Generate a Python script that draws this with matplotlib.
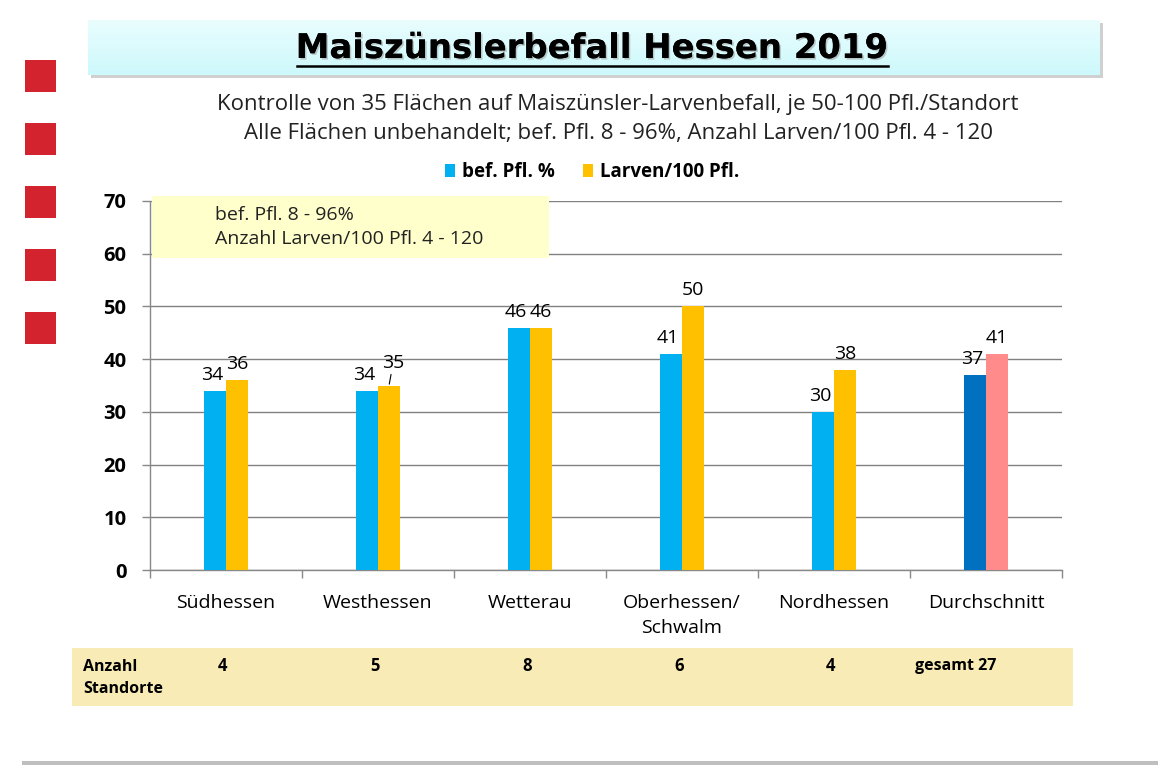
import matplotlib
matplotlib.use("Agg")
import matplotlib.pyplot as plt
import matplotlib.patheffects as pe
from matplotlib.patches import Rectangle
from matplotlib.lines import Line2D
from matplotlib.transforms import blended_transform_factory
from matplotlib.colors import LinearSegmentedColormap
import numpy as np

plt.rcParams['font.family'] = ['Open Sans', 'DejaVu Sans']

categories = ["Südhessen", "Westhessen", "Wetterau", "Oberhessen/\nSchwalm", "Nordhessen", "Durchschnitt"]
bef_pfl = [34, 34, 46, 41, 30, 37]
larven = [36, 35, 46, 50, 38, 41]
standorte = [4, 5, 8, 6, 4]
standorte_total = 27
yticks = [0, 10, 20, 30, 40, 50, 60, 70]

title = "Maiszünslerbefall Hessen 2019"
subtitle = ("Kontrolle von 35 Flächen auf Maiszünsler-Larvenbefall, je 50-100 Pfl./Standort\n"
            "Alle Flächen unbehandelt; bef. Pfl. 8 - 96%, Anzahl Larven/100 Pfl. 4 - 120")
box_text = "bef. Pfl. 8 - 96%\nAnzahl Larven/100 Pfl. 4 - 120"

W, H = 1158, 765
fig = plt.figure(figsize=(W / 100, H / 100), dpi=100)

def fx(px):
    return px / W

def fy(py):
    return 1 - py / H

# red squares on left
for i in range(5):
    y0 = 60 + i * 63
    fig.patches.append(Rectangle((fx(25), fy(y0 + 32)), fx(31), 32 / H,
                                 transform=fig.transFigure, facecolor="#D2232E",
                                 edgecolor="none"))

# title box with shadow
shadow = Rectangle((fx(91), fy(78)), fx(1012), 55 / H, transform=fig.transFigure,
                   facecolor="#D0D0D0", edgecolor="none", zorder=-2)
fig.patches.append(shadow)
grad = np.linspace(0, 1, 50).reshape(-1, 1)
tb_ax = fig.add_axes([fx(88), fy(75), fx(1012), 55 / H])
tb_ax.set_zorder(-1)
cm = LinearSegmentedColormap.from_list("g", ["#CDF9FC", "#E9FDFE"])
tb_ax.imshow(grad, aspect="auto", cmap=cm, extent=[0, 1, 0, 1], origin="lower")
tb_ax.set_axis_off()

t = fig.text(fx(592), fy(58), title, ha="center", va="baseline", fontsize=22,
             fontweight="bold", color="black", family=["DejaVu Sans"])
renderer = fig.canvas.get_renderer()
w = t.get_window_extent(renderer).width
t.set_fontsize(22 * 591 / w)
t.set_path_effects([pe.withSimplePatchShadow(offset=(1.2, -1.2), shadow_rgbFace="#999999", alpha=0.5),
                    pe.Normal()])
fig.lines.append(Line2D([fx(297), fx(888)], [fy(65.5), fy(65.5)], transform=fig.transFigure,
                        color="black", linewidth=1.8))

fig.text(fx(618), fy(119), subtitle, ha="center", va="center", fontsize=16,
         linespacing=1.45, color="#222222")

# main axes
ax = fig.add_axes([fx(150), fy(570), fx(912), (570 - 201) / H])
x = np.arange(len(categories))
bw = 0.145
blue_cols = ["#00B0F0"] * 5 + ["#0070C0"]
yel_cols = ["#FFC000"] * 5 + ["#FF8B8B"]
b1 = ax.bar(x - bw / 2, bef_pfl, bw, color=blue_cols, label="bef. Pfl. %", zorder=3)
b2 = ax.bar(x + bw / 2, larven, bw, color=yel_cols, label="Larven/100 Pfl.", zorder=3)

for i, v in enumerate(bef_pfl):
    ax.annotate(str(v), (x[i] - bw / 2, v), xytext=(-2, 5), textcoords="offset points",
                ha="center", va="bottom", fontsize=14, zorder=5)
for i, v in enumerate(larven):
    if i == 1:
        ax.annotate(str(v), (x[i] + bw / 2, v), xytext=(3, 10), textcoords="offset points",
                    ha="center", va="bottom", fontsize=14, zorder=5,
                    arrowprops=dict(arrowstyle="-", color="black", lw=0.8,
                                    shrinkA=0, shrinkB=1))
    else:
        ax.annotate(str(v), (x[i] + bw / 2, v), xytext=(0, 5), textcoords="offset points",
                    ha="center", va="bottom", fontsize=14, zorder=5)

ax.set_xlim(-0.5, len(categories) - 0.5)
ax.set_ylim(0, 70)
ax.set_yticks(yticks)
ax.set_yticklabels([str(v) for v in yticks], fontweight="bold", fontsize=14.5)
ax.set_xticks(x)
ax.set_xticklabels(categories, fontsize=14, linespacing=1.5)
ax.tick_params(axis="x", length=0, pad=17)
ax.set_xticks(np.arange(-0.5, len(categories), 1), minor=True)
ax.tick_params(axis="x", which="minor", length=6, color="#888888", width=1)
ax.tick_params(axis="y", length=6, color="#888888", width=1, pad=11)
ax.grid(axis="y", color="#808080", linewidth=1, zorder=0)
for s in ["top", "right"]:
    ax.spines[s].set_visible(False)
ax.spines["left"].set_color("#888888")
ax.spines["bottom"].set_color("#888888")
ax.spines["left"].set_linewidth(1)
ax.spines["bottom"].set_linewidth(1)
ax.set_facecolor("none")

leg = ax.legend(loc="center", bbox_to_anchor=(fx(592), fy(172)), bbox_transform=fig.transFigure,
                ncol=2, frameon=False, prop=dict(weight="bold", size=13.5),
                handlelength=0.55, handleheight=0.75, handletextpad=0.35, columnspacing=1.5)

# yellow info box
fig.patches.append(Rectangle((fx(152), fy(258)), fx(397), 62 / H, transform=fig.transFigure,
                             facecolor="#FFFFCC", edgecolor="none", zorder=1))
fig.text(fx(215), fy(227), box_text, ha="left", va="center", fontsize=14,
         linespacing=1.4, color="#222222", zorder=2)

# bottom table
fig.patches.append(Rectangle((fx(72), fy(706)), fx(1001), 58 / H, transform=fig.transFigure,
                             facecolor="#F9EBB5", edgecolor="none"))
fig.text(fx(83), fy(678), "Anzahl\nStandorte", ha="left", va="center", fontsize=11.5,
         fontweight="bold", linespacing=1.5)
trans = blended_transform_factory(ax.transData, fig.transFigure)
for i, n in enumerate(standorte):
    fig.text(x[i] - 0.02, fy(666), str(n), ha="center", va="center", fontsize=12,
             fontweight="bold", transform=trans)
fig.text(x[-1] - 0.47, fy(666), f"gesamt {standorte_total}", ha="left", va="center",
         fontsize=11.5, fontweight="bold", transform=trans)

# bottom grey line
fig.patches.append(Rectangle((fx(22), 0), fx(1136), 4 / H, transform=fig.transFigure,
                             facecolor="#BFBFBF", edgecolor="none"))

fig.savefig("out.png", dpi=100)
